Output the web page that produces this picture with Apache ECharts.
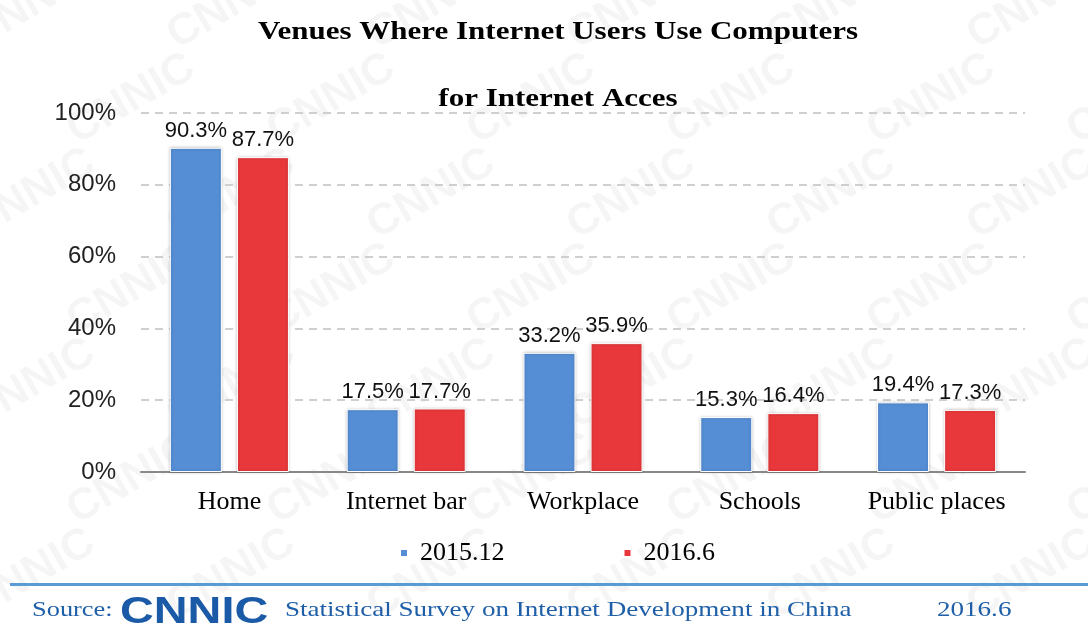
<!DOCTYPE html>
<html>
<head>
<meta charset="utf-8">
<script src="https://cdn.jsdelivr.net/npm/echarts@6/dist/echarts.min.js"></script>
<style>
  html, body { margin: 0; padding: 0; background: #fff; }
  #chart { width: 1088px; height: 625px; }
</style>
</head>
<body>
<div id="chart"></div>
<script>
var categories = ["Home", "Internet bar", "Workplace", "Schools", "Public places"];
var seriesNames = ["2015.12", "2016.6"];
var values2015 = [90.3, 17.5, 33.2, 15.3, 19.4];
var values2016 = [87.7, 17.7, 35.9, 16.4, 17.3];
var yTicks = [0, 20, 40, 60, 80, 100];

var chart = echarts.init(document.getElementById("chart"));

var serif = "'Liberation Serif', 'Times New Roman', serif";
var sans = "'Liberation Sans', Arial, sans-serif";

// faint CNNIC watermark behind everything
var marks = [];
for (var r = 0; r < 7; r++) {
  for (var c = 0; c < 7; c++) {
    marks.push({
      type: "text",
      z: -10,
      silent: true,
      x: -40 + c * 200 + (r % 2) * 100,
      y: 20 + r * 95,
      rotation: Math.PI / 6,
      style: {
        text: "CNNIC",
        fill: "rgba(0,0,0,0.04)",
        font: "bold 44px " + sans
      }
    });
  }
}

var barStyle = function (color) {
  return {
    color: color,
    borderColor: "#fff",
    borderWidth: 1,
    shadowBlur: 3,
    shadowColor: "rgba(0,0,0,0.25)"
  };
};

var labelStyle = {
  show: true,
  position: "top",
  distance: 6,
  formatter: "{c}%",
  color: "#111",
  fontSize: 22,
  fontFamily: sans
};

var titleText = function (text, y) {
  return {
    type: "text",
    x: 558,
    y: y,
    scaleX: 1.24,
    style: {
      text: text,
      align: "center",
      verticalAlign: "middle",
      fill: "#000",
      font: "bold 25px " + serif
    }
  };
};

var footText = function (text, x, sx) {
  return {
    type: "text",
    x: x,
    y: 610,
    scaleX: sx,
    style: {
      text: text,
      verticalAlign: "middle",
      fill: "#1F5FA8",
      font: "22px " + serif
    }
  };
};

var option = {
  backgroundColor: "#fff",
  animation: false,
  legend: {
    data: seriesNames,
    bottom: 54,
    left: 394,
    icon: "rect",
    itemWidth: 8,
    itemHeight: 8,
    itemGap: 118,
    textStyle: {
      fontFamily: serif,
      fontSize: 26,
      color: "#000",
      padding: [0, 0, 0, 7]
    }
  },
  grid: {
    left: 141,
    right: 63,
    top: 113,
    bottom: 153
  },
  xAxis: {
    type: "category",
    data: categories,
    axisLine: {
      lineStyle: { color: "#888", width: 2 }
    },
    axisTick: {
      inside: true,
      length: 7,
      lineStyle: { color: "#888", width: 2 }
    },
    axisLabel: {
      interval: 0,
      margin: 17,
      fontFamily: serif,
      fontSize: 26,
      color: "#000"
    }
  },
  yAxis: {
    type: "value",
    min: yTicks[0],
    max: yTicks[yTicks.length - 1],
    interval: 20,
    axisLine: { show: false },
    axisTick: { show: false },
    axisLabel: {
      formatter: "{value}%",
      margin: 25,
      fontFamily: sans,
      fontSize: 24,
      color: "#222"
    },
    splitLine: {
      lineStyle: { type: [8, 6], color: "#cfcfcf", width: 2 }
    }
  },
  series: [
    {
      name: seriesNames[0],
      type: "bar",
      data: values2015,
      barWidth: 52,
      barGap: "29%",
      itemStyle: barStyle("#558ED5"),
      label: labelStyle
    },
    {
      name: seriesNames[1],
      type: "bar",
      data: values2016,
      barWidth: 52,
      itemStyle: barStyle("#E8383B"),
      label: labelStyle
    }
  ],
  graphic: marks.concat([
    titleText("Venues Where Internet Users Use Computers", 33),
    titleText("for Internet Acces", 100),
    {
      type: "rect",
      shape: { x: 10, y: 583, width: 1078, height: 3 },
      style: { fill: "#5B9BD5" }
    },
    footText("Source:", 32, 1.2),
    {
      type: "text",
      x: 120,
      y: 595,
      scaleX: 1.3,
      style: {
        text: "CNNIC",
        fill: "#1B5AA6",
        font: "900 36px " + sans
      }
    },
    footText("Statistical Survey on Internet Development in China", 285, 1.23),
    footText("2016.6", 937, 1.23)
  ])
};

chart.setOption(option);
</script>
</body>
</html>
